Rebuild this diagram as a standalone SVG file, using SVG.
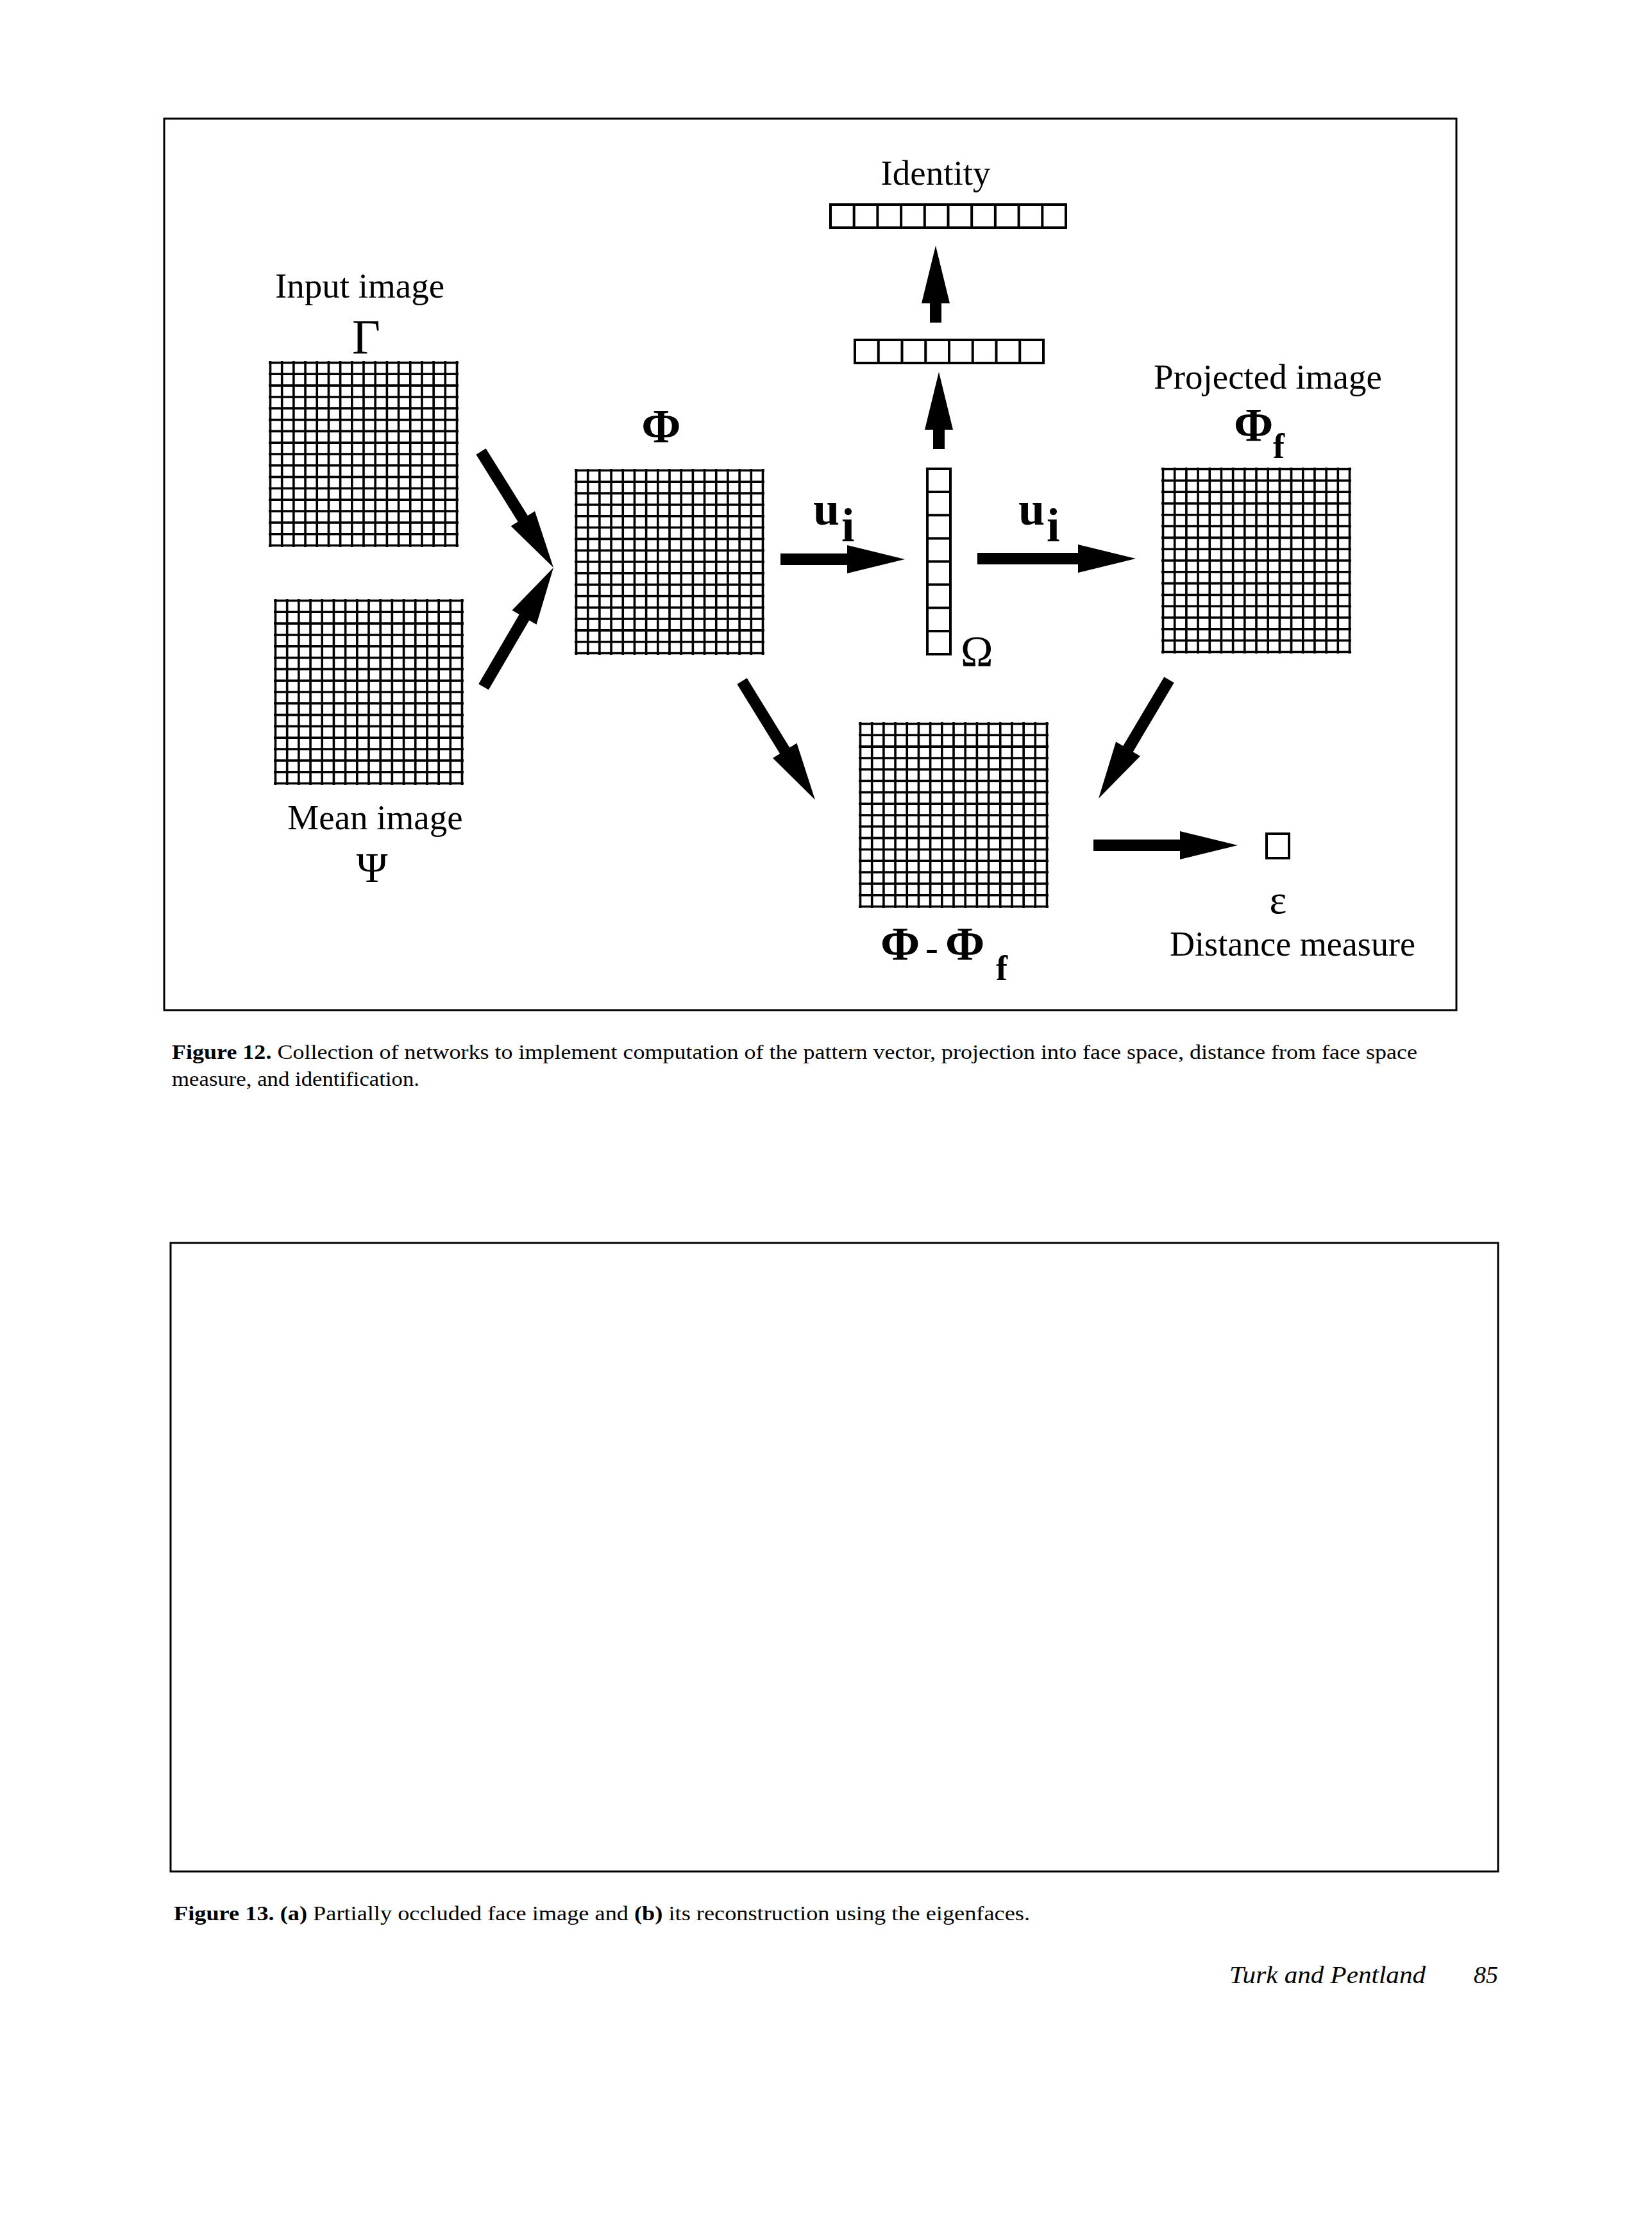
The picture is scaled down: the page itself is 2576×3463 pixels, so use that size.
<svg xmlns="http://www.w3.org/2000/svg" xmlns:xlink="http://www.w3.org/1999/xlink" width="2576" height="3463" viewBox="0 0 2576 3463">
  <style>
    .frame { fill: none; stroke: #000; stroke-width: 3; }
    .grid { fill: none; stroke: #000; stroke-width: 3.6; }
    .vec { fill: #fff; stroke: #000; stroke-width: 4; }
    .shaft { fill: none; stroke: #000; stroke-width: 18; }
    .lbl { font-family: "Liberation Serif", "Times New Roman", serif; font-size: 55px; fill: #000; }
    .sym { font-family: "Liberation Serif", "Times New Roman", serif; fill: #000; }
    .b { font-weight: bold; }
    .cap { font-family: "Liberation Serif", "Times New Roman", serif; font-size: 32px; fill: #000; }
    .foot { font-family: "Liberation Serif", "Times New Roman", serif; font-size: 38px; font-style: italic; fill: #000; }
  </style>
  <defs>
    <g id="grid16">
      <path class="grid" d="M2.5,0V290M20.69,0V290M38.88,0V290M57.06,0V290M75.25,0V290M93.44,0V290M111.63,0V290M129.81,0V290M148,0V290M166.19,0V290M184.38,0V290M202.56,0V290M220.75,0V290M238.94,0V290M257.13,0V290M275.31,0V290M293.5,0V290M0,2.5H296M0,20.31H296M0,38.13H296M0,55.94H296M0,73.75H296M0,91.56H296M0,109.38H296M0,127.19H296M0,145H296M0,162.81H296M0,180.63H296M0,198.44H296M0,216.25H296M0,234.06H296M0,251.88H296M0,269.69H296M0,287.5H296"/>
    </g>
    <marker id="ah" markerUnits="userSpaceOnUse" markerWidth="92" markerHeight="46" refX="0" refY="23" orient="auto" overflow="visible">
      <path d="M-2,1 L88,23 L-2,45 Z" fill="#000"/>
    </marker>
  </defs>
  <rect width="2576" height="3463" fill="#fff"/>

  <!-- Figure 12 frame -->
  <rect class="frame" x="256" y="185" width="2015" height="1390"/>

  <g id="identity">
    <text class="lbl" x="1459" y="288" text-anchor="middle">Identity</text>
    <rect class="vec" x="1295" y="319" width="367" height="36"/>
    <path class="vec" d="M1331.7,319V355M1368.4,319V355M1405.1,319V355M1441.8,319V355M1478.5,319V355M1515.2,319V355M1551.9,319V355M1588.6,319V355M1625.3,319V355"/>
  </g>

  <g id="midvector">
    <rect class="vec" x="1333" y="530" width="294" height="36"/>
    <path class="vec" d="M1369.75,530V566M1406.5,530V566M1443.25,530V566M1480,530V566M1516.75,530V566M1553.5,530V566M1590.25,530V566"/>
  </g>

  <g id="input">
    <text class="lbl" x="561" y="464" text-anchor="middle">Input image</text>
    <text class="sym" x="571" y="551" font-size="76" text-anchor="middle">Γ</text>
    <use xlink:href="#grid16" x="419" y="563"/>
  </g>

  <g id="mean">
    <use xlink:href="#grid16" x="427" y="934"/>
    <text class="lbl" x="585" y="1293" text-anchor="middle">Mean image</text>
    <text class="sym" x="580" y="1375" font-size="66" text-anchor="middle">Ψ</text>
  </g>

  <g id="phi">
    <text class="sym b" x="1031" y="690" font-size="74" text-anchor="middle">Φ</text>
    <use xlink:href="#grid16" x="896" y="731"/>
  </g>

  <g id="omega">
    <rect class="vec" x="1446" y="731" width="36" height="289"/>
    <path class="vec" d="M1446,767.1H1482M1446,803.3H1482M1446,839.4H1482M1446,875.5H1482M1446,911.6H1482M1446,947.8H1482M1446,983.9H1482"/>
    <text class="sym" x="1498" y="1038" font-size="68">Ω</text>
  </g>

  <g id="projected">
    <text class="lbl" x="1977" y="606" text-anchor="middle">Projected image</text>
    <text class="sym b" x="1924" y="688" font-size="74">Φ<tspan x="1985" y="714" font-size="54">f</tspan></text>
    <use xlink:href="#grid16" x="1811" y="729"/>
  </g>

  <g id="difference">
    <use xlink:href="#grid16" x="1339" y="1126"/>
    <text class="sym b" y="1497" font-size="74"><tspan x="1373">Φ</tspan><tspan x="1443" font-size="60">-</tspan><tspan x="1474">Φ</tspan><tspan x="1553" y="1528" font-size="54">f</tspan></text>
  </g>

  <g id="distance">
    <rect class="vec" x="1975" y="1300" width="35" height="38"/>
    <text class="sym" x="1993" y="1424" font-size="64" text-anchor="middle">ε</text>
    <text class="lbl" x="1824" y="1490" textLength="383" lengthAdjust="spacingAndGlyphs">Distance measure</text>
  </g>

  <g id="connectors">
    <line class="shaft" x1="750" y1="704" x2="816.4" y2="810.4" marker-end="url(#ah)"/>
    <line class="shaft" x1="754" y1="1071" x2="818.5" y2="960.9" marker-end="url(#ah)"/>
    <line class="shaft" x1="1217" y1="872" x2="1323" y2="872" marker-end="url(#ah)"/>
    <line class="shaft" x1="1524" y1="871" x2="1683" y2="871" marker-end="url(#ah)"/>
    <line class="shaft" x1="1464" y1="700" x2="1464" y2="668" marker-end="url(#ah)"/>
    <line class="shaft" x1="1459" y1="503" x2="1459" y2="471" marker-end="url(#ah)"/>
    <line class="shaft" x1="1157" y1="1062" x2="1224.8" y2="1172.1" marker-end="url(#ah)"/>
    <line class="shaft" x1="1823" y1="1060" x2="1758" y2="1169.4" marker-end="url(#ah)"/>
    <line class="shaft" x1="1705" y1="1318" x2="1842" y2="1318" marker-end="url(#ah)"/>
    <text class="sym b" x="1268" y="818" font-size="74">u<tspan x="1312" y="844">i</tspan></text>
    <text class="sym b" x="1588" y="818" font-size="74">u<tspan x="1632" y="844">i</tspan></text>
  </g>

  <text class="cap" x="268" y="1651" textLength="1942" lengthAdjust="spacingAndGlyphs"><tspan font-weight="bold">Figure 12.</tspan>  Collection of networks to implement computation of the pattern vector, projection into face space, distance from face space</text>
  <text class="cap" x="268" y="1693" textLength="386" lengthAdjust="spacingAndGlyphs">measure, and identification.</text>

  <!-- Figure 13 frame (empty) -->
  <rect class="frame" x="266" y="1938" width="2070" height="980"/>

  <text class="cap" x="271" y="2994" textLength="1335" lengthAdjust="spacingAndGlyphs"><tspan font-weight="bold">Figure 13.  (a)</tspan> Partially occluded face image and <tspan font-weight="bold">(b)</tspan> its reconstruction using the eigenfaces.</text>

  <text class="foot" x="1917" y="3092" textLength="306" lengthAdjust="spacingAndGlyphs">Turk and Pentland</text>
  <text class="foot" x="2298" y="3092">85</text>
</svg>
